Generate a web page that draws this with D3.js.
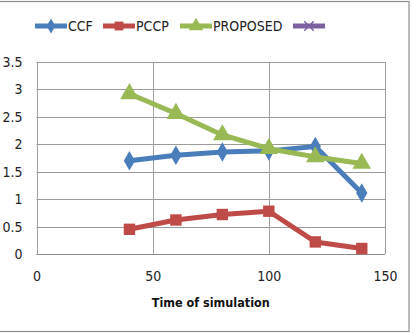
<!DOCTYPE html>
<html><head><meta charset="utf-8">
<script src="https://cdn.jsdelivr.net/npm/d3@7"></script>
<style>
body{margin:0;background:#fff;}
text{font-family:"Liberation Sans Narrow","DejaVu Sans Condensed","Open Sans",sans-serif;}
</style></head>
<body><svg id="c" width="413" height="335"></svg>
<script>
const xValues = [40, 60, 80, 100, 120, 140];
const ccf = [1.70, 1.80, 1.86, 1.88, 1.96, 1.11];
const pccp = [0.45, 0.62, 0.72, 0.78, 0.22, 0.10];
const proposed = [2.92, 2.56, 2.17, 1.92, 1.77, 1.65];
const seriesNames = ["CCF", "PCCP", "PROPOSED", ""];
const seriesColors = ["#4a7ebb", "#be4b48", "#98b954", "#7d60a0"];
const xTicks = [0, 50, 100, 150];
const yTicks = [0, 0.5, 1, 1.5, 2, 2.5, 3, 3.5];
const xTitle = "Time of simulation";

const svg = d3.select("#c");
svg.append("rect").attr("x",-1).attr("y",1.5).attr("width",410).attr("height",330)
  .attr("fill","#fff").attr("stroke","#8c8c8c").attr("stroke-width",1.2);

const x = d3.scaleLinear().domain([0,150]).range([36.5,385]);
const y = d3.scaleLinear().domain([0,3.5]).range([254,62]);

// grid
svg.append("g").selectAll("line").data(yTicks).join("line")
  .attr("x1",x(0)).attr("x2",x(150)).attr("y1",d=>Math.round(y(d))+0.5).attr("y2",d=>Math.round(y(d))+0.5)
  .attr("stroke",d=>d===0?"#8a8a8a":"#9a9a9a").attr("stroke-width",1);
svg.append("g").selectAll("line").data(xTicks).join("line")
  .attr("y1",y(0)).attr("y2",y(3.5)).attr("x1",d=>Math.round(x(d))+0.5).attr("x2",d=>Math.round(x(d))+0.5)
  .attr("stroke","#a0a0a0").attr("stroke-width",1);

// axes labels
const xAxis = d3.axisBottom(x).tickValues(xTicks).tickSize(0).tickPadding(17);
const gx = svg.append("g").attr("transform",`translate(0,${y(0)})`).call(xAxis);
gx.select(".domain").remove();
gx.selectAll("text").attr("font-size",14).attr("fill","#222");
const yAxis = d3.axisLeft(y).tickValues(yTicks).tickSize(0).tickPadding(14).tickFormat(d3.format("~g"));
const gy = svg.append("g").attr("transform",`translate(${x(0)},0)`).call(yAxis);
gy.select(".domain").remove();
gy.selectAll("text").attr("font-size",14).attr("fill","#222");

svg.append("text").attr("x",(x(0)+x(150))/2).attr("y",307).attr("text-anchor","middle")
  .attr("font-size",12.5).attr("font-weight","bold").attr("fill","#111").text(xTitle);

const series = [ccf, pccp, proposed];
const shapes = [d3.symbolDiamond, d3.symbolSquare, d3.symbolTriangle];
const sizes = [110, 130, 150];
const line = d3.line().x((d,i)=>x(xValues[i])).y(d=>y(d));
series.forEach((s,k)=>{
  svg.append("path").datum(s).attr("d",line).attr("fill","none")
    .attr("stroke",seriesColors[k]).attr("stroke-width",5).attr("stroke-linejoin","round");
  svg.append("g").selectAll("path").data(s).join("path")
    .attr("transform",(d,i)=>`translate(${x(xValues[i])},${y(d)})`)
    .attr("d",d3.symbol().type(shapes[k]).size(sizes[k])).attr("fill",seriesColors[k]);
});

// legend
const legX = [35, 103, 180, 293];
const lg = svg.append("g");
seriesNames.forEach((n,k)=>{
  const g = lg.append("g").attr("transform",`translate(${legX[k]},26)`);
  g.append("line").attr("x1",0).attr("x2",32).attr("y1",0).attr("y2",0)
    .attr("stroke",seriesColors[k]).attr("stroke-width",5);
  if(k<3){
    g.append("path").attr("transform","translate(16,0)")
      .attr("d",d3.symbol().type(shapes[k]).size(sizes[k]*0.6)).attr("fill",seriesColors[k]);
  } else {
    g.append("path").attr("transform","translate(16,0)")
      .attr("d",d3.symbol().type(d3.symbolX).size(60)).attr("stroke",seriesColors[k]).attr("stroke-width",1.5).attr("fill","none");
  }
  g.append("text").attr("x",33).attr("y",5).attr("font-size",14).attr("fill","#222").text(n);
});
</script></body></html>
